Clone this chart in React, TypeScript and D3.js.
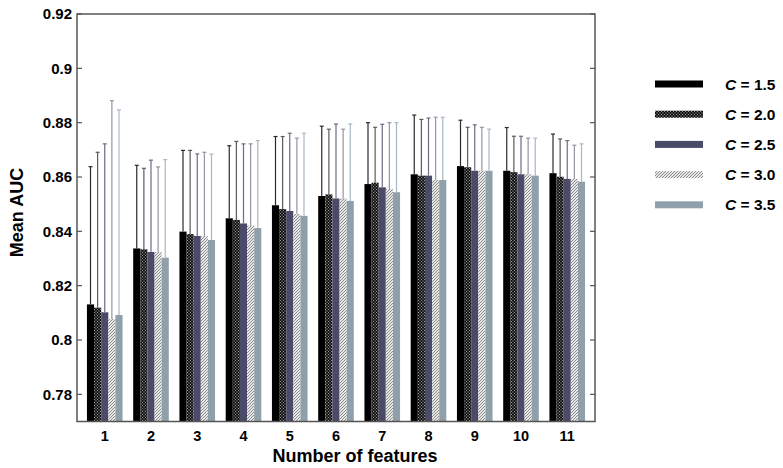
import React from "react";
import * as d3 from "d3";

const features = [1, 2, 3, 4, 5, 6, 7, 8, 9, 10, 11];
const cValues = ["1.5", "2.0", "2.5", "3.0", "3.5"];
const yTicks = [0.78, 0.8, 0.82, 0.84, 0.86, 0.88, 0.9, 0.92];

// mean AUC, one array per C
const aucC15 = [0.8131, 0.8337, 0.8399, 0.8448, 0.8496, 0.853, 0.8574, 0.861, 0.864, 0.8623, 0.8614];
const aucC20 = [0.8119, 0.8334, 0.839, 0.8442, 0.8482, 0.8536, 0.8579, 0.8605, 0.8636, 0.8618, 0.8601];
const aucC25 = [0.8102, 0.8324, 0.8383, 0.8429, 0.8475, 0.8521, 0.8562, 0.8605, 0.8623, 0.861, 0.8593];
const aucC30 = [0.8077, 0.8324, 0.8382, 0.8421, 0.8464, 0.8521, 0.8556, 0.8589, 0.8623, 0.861, 0.8593];
const aucC35 = [0.8092, 0.8303, 0.8368, 0.8412, 0.8457, 0.8512, 0.8544, 0.8589, 0.8623, 0.8605, 0.8583];

// standard deviations (upper whisker only)
const sdC15 = [0.0507, 0.0306, 0.0299, 0.0267, 0.0253, 0.0257, 0.0226, 0.0218, 0.0169, 0.0159, 0.0144];
const sdC20 = [0.0572, 0.0298, 0.0308, 0.0289, 0.0267, 0.024, 0.0204, 0.0207, 0.0147, 0.0132, 0.0139];
const sdC25 = [0.062, 0.0338, 0.0302, 0.0293, 0.0286, 0.0274, 0.0232, 0.0212, 0.0169, 0.014, 0.0141];
const sdC30 = [0.0804, 0.0313, 0.0309, 0.0301, 0.0279, 0.0255, 0.0244, 0.0231, 0.016, 0.0133, 0.0124];
const sdC35 = [0.0755, 0.0361, 0.0316, 0.0322, 0.0304, 0.0283, 0.0256, 0.0231, 0.0153, 0.0138, 0.0139];

const means = [aucC15, aucC20, aucC25, aucC30, aucC35];
const sds = [sdC15, sdC20, sdC25, sdC30, sdC35];

const fills = ["#000000", "url(#pDots)", "#4b4a68", "url(#pHatch)", "#8fa0aa"];
const whiskerColors = ["#2a2a2a", "#5a5a5a", "#6c6c84", "#9494a4", "#a8b8c2"];

const W = 783;
const H = 468;
const font = "'Liberation Sans', Arial, sans-serif";

export default function App() {
  const left = 77, right = 595, top = 14, bottom = 421.5;
  const x = d3.scaleLinear().domain([0.4, 11.6]).range([left, right]);
  const y = d3.scaleLinear().domain([0.77, 0.92]).range([bottom, top]);
  const unit = x(1) - x(0);
  const barW = (0.77 / 5) * unit;

  return (
    <svg width={W} height={H} style={{ position: "absolute", left: 0, top: 0, background: "#fff" }}
      fontFamily={font}>
      <defs>
        <pattern id="pDots" width="3" height="3" patternUnits="userSpaceOnUse">
          <rect width="3" height="3" fill="#111" />
          <rect x="1" y="0" width="1" height="1" fill="#9a9a9a" />
          <rect x="0" y="1.5" width="1" height="1" fill="#6a6a6a" />
          <rect x="2" y="1.5" width="1" height="1" fill="#6a6a6a" />
        </pattern>
        <pattern id="pHatch" width="3" height="3" patternUnits="userSpaceOnUse">
          <rect width="3" height="3" fill="#e8e8e8" />
          <path d="M-1,1 l2,-2 M0,3 l3,-3 M2,4 l2,-2" stroke="#8a8a8a" strokeWidth="1" />
        </pattern>
      </defs>

      {/* bars */}
      {means.map((series, si) =>
        series.map((v, fi) => {
          const cx = x(features[fi]) + (si - 2) * barW;
          return (
            <rect key={`b${si}-${fi}`} x={cx - barW / 2} y={y(v)} width={barW}
              height={bottom - y(v)} fill={fills[si]} />
          );
        })
      )}

      {/* upper error whiskers */}
      {means.map((series, si) =>
        series.map((v, fi) => {
          const cx = x(features[fi]) + (si - 2) * barW;
          const yt = y(v + sds[si][fi]);
          return (
            <g key={`e${si}-${fi}`} stroke={whiskerColors[si]} strokeWidth={1.2}>
              <line x1={cx} x2={cx} y1={y(v)} y2={yt} />
              <line x1={cx - 2} x2={cx + 2} y1={yt} y2={yt} />
            </g>
          );
        })
      )}

      {/* axes box */}
      <rect x={left} y={top} width={right - left} height={bottom - top} fill="none"
        stroke="#555" strokeWidth={1.5} />
      {yTicks.map((t) => (
        <g key={`t${t}`}>
          <line x1={left} x2={left + 5} y1={y(t)} y2={y(t)} stroke="#555" strokeWidth={1.2} />
          <line x1={right - 5} x2={right} y1={y(t)} y2={y(t)} stroke="#555" strokeWidth={1.2} />
          <text x={left - 5} y={y(t)} dy="0.36em" textAnchor="end" fontSize={15} fontWeight="bold">
            {String(+t.toFixed(2))}
          </text>
        </g>
      ))}
      {features.map((f) => (
        <text key={`x${f}`} x={x(f)} y={441} textAnchor="middle" fontSize={14.5} fontWeight="bold">
          {f}
        </text>
      ))}

      <text x={355} y={462} textAnchor="middle" fontSize={18} fontWeight="bold">
        Number of features
      </text>
      <text transform={`translate(23,212.5) rotate(-90)`} textAnchor="middle"
        fontSize={18} fontWeight="bold">
        Mean AUC
      </text>

      {/* legend */}
      {cValues.map((c, i) => {
        const ly = 84 + i * 30.2;
        return (
          <g key={`l${c}`}>
            <rect x={655} y={ly - 3.5} width={48} height={7} fill={fills[i]} />
            <text x={725} y={ly} dy="0.36em" fontSize={15.5} fontWeight="bold">
              <tspan fontStyle="italic">C</tspan> = {c}
            </text>
          </g>
        );
      })}
    </svg>
  );
}
